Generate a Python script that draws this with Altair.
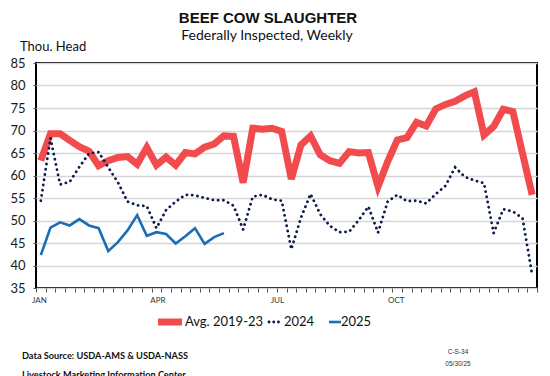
import altair as alt
import pandas as pd

# ---------------- data ----------------
weeks = list(range(52))
avg_2019_23 = [63.3, 69.3, 69.3, 67.8, 66.4, 65.4, 62.2, 63.3, 64.0, 64.2,
               62.5, 66.2, 62.3, 64.1, 62.3, 65.1, 64.8, 66.3, 67.0, 68.8,
               68.7, 58.4, 70.5, 70.3, 70.5, 69.8, 59.2, 66.8, 68.8, 64.6,
               63.3, 62.7, 65.3, 65.0, 65.1, 57.5, 63.1, 67.9, 68.4, 71.8,
               71.0, 74.8, 75.8, 76.5, 77.7, 78.6, 69.0, 70.9, 74.7, 74.2,
               64.9, 55.7]
y2024 = [54.4, 68.3, 58.0, 58.6, 61.9, 64.9, 65.2, 61.8, 58.5, 54.2,
         53.4, 53.2, 48.3, 52.3, 54.2, 55.7, 55.6, 55.0, 54.5, 54.5,
         53.3, 48.0, 55.3, 55.7, 54.7, 54.4, 43.6, 50.6, 55.9, 51.4,
         48.8, 47.4, 47.5, 50.1, 53.1, 47.3, 54.2, 55.7, 54.3, 54.4,
         53.8, 55.9, 57.7, 61.8, 59.7, 58.9, 58.3, 47.2, 52.5, 52.0,
         50.5, 37.9]
y2025 = [42.3, 48.4, 49.6, 48.9, 50.3, 48.9, 48.3, 43.2, 45.2, 47.8,
         51.2, 46.6, 47.4, 47.0, 44.9, 46.5, 48.3, 44.8, 46.3, 47.2]
month_labels = ["JAN", "APR", "JUL", "OCT"]
month_pos = [-0.15, 12.15, 24.55, 36.9]
y_ticks = [35, 40, 45, 50, 55, 60, 65, 70, 75, 80, 85]
tick_bounds = [i - 0.5 for i in range(53)]

# ---------------- styling ----------------
W, H = 501, 225
RED = "#f24b4e"
NAVY = "#0c1b4d"
BLUE = "#1b6db5"
DOT = [0.1, 5.2]

df_avg = pd.DataFrame({"week": weeks, "value": avg_2019_23})
df_24 = pd.DataFrame({"week": weeks, "value": y2024})
df_25 = pd.DataFrame({"week": weeks[:len(y2025)], "value": y2025})
df_month = pd.DataFrame({"week": month_pos, "lab": month_labels})

xscale = alt.Scale(domain=[-0.5, 51.5], nice=False, zero=False)
yscale = alt.Scale(domain=[35, 85], nice=False, zero=False)

x_axis = alt.Axis(values=tick_bounds, labels=False, ticks=True, tickSize=4,
                  tickColor="#555", tickWidth=1, domain=False, grid=False, title=None)
y_axis = alt.Axis(values=y_ticks, grid=True, gridColor="#d6d6d6", gridWidth=1.5,
                  tickSize=3, tickColor="#555", labelPadding=8, labelFont="Lato",
                  labelFontSize=13, labelColor="#1a1a1a", domain=False, title=None)

X = alt.X("week:Q", scale=xscale, axis=x_axis)
Y = alt.Y("value:Q", scale=yscale, axis=y_axis)

red = alt.Chart(df_avg).mark_line(color=RED, strokeWidth=7).encode(x=X, y=Y)
dotted = alt.Chart(df_24).mark_line(color=NAVY, strokeWidth=2.8, strokeDash=DOT,
                                    strokeCap="round").encode(x=X, y=Y)
blue = alt.Chart(df_25).mark_line(color=BLUE, strokeWidth=2.6).encode(x=X, y=Y)
months = alt.Chart(df_month).mark_text(font="Lato", fontSize=8, color="#333",
                                       baseline="middle").encode(
    x=X,
    y=alt.value(H + 13),
    text="lab:N",
)

one = pd.DataFrame({"a": [0]})


def txt(s, x, y, **kw):
    return alt.Chart(one).mark_text(text=s, **kw).encode(x=alt.value(x), y=alt.value(y))


def seg(x1, x2, y, **kw):
    return alt.Chart(one).mark_rule(**kw).encode(x=alt.value(x1), x2=alt.value(x2), y=alt.value(y))


title = txt("BEEF COW SLAUGHTER", 232, -40, font="Liberation Sans", fontSize=15,
            fontWeight="bold", color="#111", align="center", baseline="alphabetic")
subtitle = txt("Federally Inspected, Weekly", 231, -23, font="Lato", fontSize=14,
               color="#111", align="center", baseline="alphabetic")
yunit = txt("Thou. Head", -16, -12, font="Lato", fontSize=13, color="#111",
            align="left", baseline="alphabetic")

LY = 259
leg = [
    seg(122, 146, LY, color=RED, strokeWidth=7),
    txt("Avg. 2019-23", 149, LY, font="Lato", fontSize=13, color="#111",
        align="left", baseline="middle"),
    seg(233, 246, LY, color=NAVY, strokeWidth=2.8, strokeDash=[0.1, 4.6], strokeCap="round"),
    txt("2024", 248, LY, font="Lato", fontSize=13, color="#111",
        align="left", baseline="middle"),
    seg(293, 305, LY, color=BLUE, strokeWidth=2.6),
    txt("2025", 305, LY, font="Lato", fontSize=13, color="#111",
        align="left", baseline="middle"),
]

foot = [
    txt("Data Source:  USDA-AMS & USDA-NASS", -14, 293, font="Lato", fontSize=9.2,
        fontWeight="bold", color="#111", align="left", baseline="middle"),
    txt("Livestock Marketing Information Center", -14, 312, font="Lato", fontSize=9.2,
        fontWeight="bold", color="#111", align="left", baseline="middle"),
    txt("C-S-34", 422, 289, font="Liberation Sans", fontSize=6.5, color="#333",
        align="center", baseline="middle"),
    txt("05/30/25", 422, 301, font="Liberation Sans", fontSize=6.5, color="#333",
        align="center", baseline="middle"),
]

chart = alt.layer(red, dotted, blue, months, title, subtitle, yunit, *leg, *foot).properties(
    width=W, height=H,
    autosize=alt.AutoSizeParams(type="none"),
    padding={"left": 36, "top": 63, "right": 13, "bottom": 88},
    background="white",
).configure_view(stroke="black", strokeWidth=2)

chart.save("out.html", embed_options={"renderer": "svg", "actions": False})
